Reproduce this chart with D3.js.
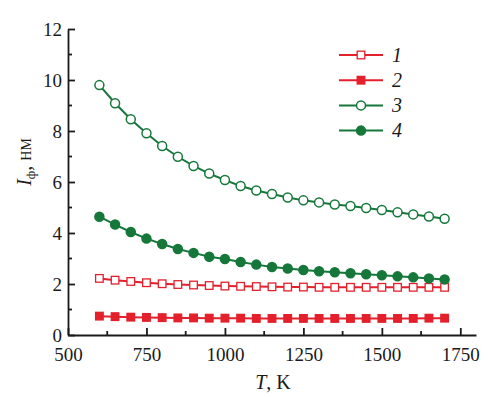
<!DOCTYPE html>
<meta charset="utf-8">
<body style="margin:0;background:#fff">
<script src="https://d3js.org/d3.v7.min.js"></script>
<script>
// ---------- data ----------
var temps = [600,650,700,750,800,850,900,950,1000,1050,1100,1150,1200,1250,1300,1350,1400,1450,1500,1550,1600,1650,1700];
var s1 = [2.22,2.15,2.10,2.05,2.01,1.98,1.96,1.94,1.92,1.91,1.90,1.89,1.88,1.88,1.87,1.87,1.87,1.87,1.87,1.87,1.87,1.87,1.87];
var s2 = [0.74,0.72,0.70,0.69,0.68,0.67,0.67,0.66,0.66,0.66,0.65,0.65,0.65,0.65,0.65,0.65,0.65,0.65,0.65,0.65,0.65,0.66,0.66];
var s3 = [9.80,9.09,8.46,7.91,7.41,6.99,6.63,6.33,6.08,5.84,5.67,5.53,5.39,5.28,5.20,5.12,5.06,4.98,4.90,4.81,4.73,4.65,4.56];
var s4 = [4.64,4.33,4.04,3.78,3.57,3.37,3.22,3.07,2.98,2.86,2.76,2.67,2.61,2.55,2.50,2.46,2.42,2.38,2.34,2.30,2.26,2.22,2.18];
var xTicks = [500,750,1000,1250,1500,1750];
var yTicks = [0,2,4,6,8,10,12];
var labels = ["1","2","3","4"];

var red = "#e3202b", green = "#16773a", ink = "#1a1a1a";
var serif = "'Liberation Serif'";
var series = [
  {name:labels[0], vals:s1, color:red, shape:"square", filled:false},
  {name:labels[1], vals:s2, color:red, shape:"square", filled:true},
  {name:labels[2], vals:s3, color:green, shape:"circle", filled:false},
  {name:labels[3], vals:s4, color:green, shape:"circle", filled:true}
];

var W = 502, H = 397;
var svg = d3.select("body").append("svg").attr("width", W).attr("height", H);

var x = d3.scaleLinear().domain([500,1800]).range([68,476]);
var y = d3.scaleLinear().domain([0,12]).range([335,29]);

// minor ticks
var xMinor = d3.range(625,1800,250);
var yMinor = d3.range(1,12,2);

var gx = svg.append("g").attr("transform","translate(0,335)");
gx.call(d3.axisBottom(x).tickValues(xTicks).tickSizeInner(-7).tickSizeOuter(0).tickPadding(9).tickFormat(d3.format("d")));
gx.selectAll(".tick text").attr("dy","0.9em");
gx.selectAll(".minor").data(xMinor).enter().append("line")
  .attr("x1", d => x(d)).attr("x2", d => x(d)).attr("y1",0).attr("y2",-4);

var gy = svg.append("g").attr("transform","translate(68,0)");
gy.call(d3.axisLeft(y).tickValues(yTicks).tickSizeInner(-7).tickSizeOuter(0).tickPadding(6));
gy.selectAll(".minor").data(yMinor).enter().append("line")
  .attr("y1", d => y(d)).attr("y2", d => y(d)).attr("x1",0).attr("x2",4);

[gx,gy].forEach(function(g){
  g.selectAll("path,line").attr("stroke",ink).style("stroke-width","1.8px");
  g.selectAll("text").style("font-family",serif).style("font-size","19px").attr("fill",ink);
});

// axis titles
var xt = svg.append("text").attr("x",273).attr("y",389).attr("text-anchor","middle")
  .style("font-family",serif).style("font-size","20px").attr("fill",ink);
xt.append("tspan").style("font-style","italic").text("T");
xt.append("tspan").text(", K");

var yt = svg.append("text").attr("transform","translate(31,162) rotate(-90)").attr("text-anchor","middle")
  .style("font-family",serif).style("font-size","20px").attr("fill",ink);
yt.append("tspan").style("font-style","italic").text("I");
yt.append("tspan").attr("dy",4).style("font-size","13px").text("ф");
yt.append("tspan").attr("dy",-4).text(", ");
yt.append("tspan").style("font-size","14px").text("НМ");

var line = d3.line().x((d,i) => x(temps[i])).y(d => y(d));

function drawMarker(g, s, cx, cy){
  if(s.shape=="circle"){
    g.append("circle").attr("cx",cx).attr("cy",cy).attr("r",4.5)
      .attr("fill", s.filled ? s.color : "#fff").attr("stroke", s.color).attr("stroke-width",1.5);
  } else {
    g.append("rect").attr("x",cx-3.8).attr("y",cy-3.8).attr("width",7.6).attr("height",7.6)
      .attr("fill", s.filled ? s.color : "#fff").attr("stroke", s.color).attr("stroke-width",1.3);
  }
}

series.forEach(function(s){
  var g = svg.append("g");
  g.append("path").attr("d", line(s.vals)).attr("fill","none").attr("stroke", s.color).attr("stroke-width",2);
  s.vals.forEach(function(v,i){ drawMarker(g, s, x(temps[i]), y(v)); });
});

// legend
var lg = svg.append("g");
series.forEach(function(s,i){
  var ly = 55 + i*25.2;
  lg.append("line").attr("x1",339).attr("x2",383).attr("y1",ly).attr("y2",ly).attr("stroke",s.color).attr("stroke-width",2);
  drawMarker(lg, s, 361, ly);
  lg.append("text").attr("x",392).attr("y",ly+6.5)
    .style("font-family",serif).style("font-size","20px").style("font-style","italic").attr("fill",ink).text(s.name);
});
</script>
</body>
